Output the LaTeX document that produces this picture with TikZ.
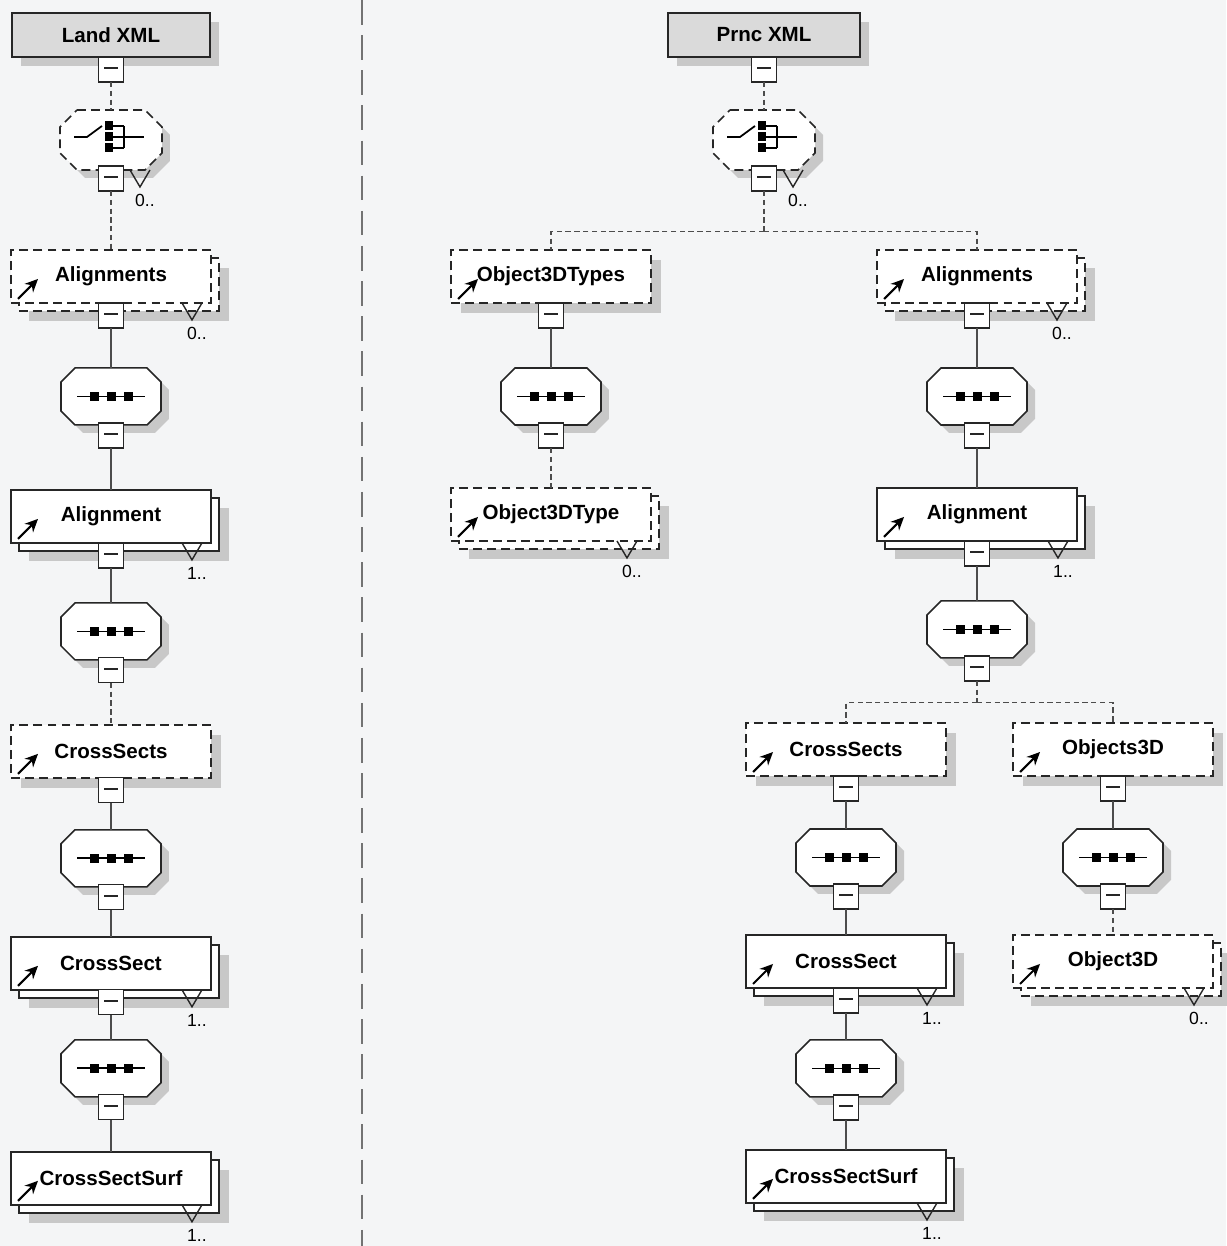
\documentclass[tikz,border=0pt]{standalone}
\usepackage{fontspec}
\setmainfont{Liberation Sans}
\usetikzlibrary{positioning,shadows,arrows.meta}

\definecolor{paper}{RGB}{244,245,246}
\definecolor{shadowgray}{RGB}{200,200,200}
\definecolor{headfill}{RGB}{218,218,218}

\tikzset{
	conn/.style={draw=black!70, line width=0.6pt},
	optconn/.style={conn, dash pattern=on 3pt off 2pt},
	opt/.style={dash pattern=on 5pt off 3pt},
	divider/.style={draw=black!55, line width=1.2pt, dash pattern=on 14pt off 6pt},
	dropshade/.style={general shadow={shadow xshift=#1, shadow yshift=-#1, fill=shadowgray}},
	head/.style={rectangle, draw=black!85, line width=0.9pt, fill=headfill,
		minimum height=0.88cm, inner sep=0pt, outer sep=0pt, dropshade=0.18cm,
		font=\bfseries\fontsize{11.7}{14}\selectfont},
	elem/.style={rectangle, draw=black!85, line width=0.9pt, fill=white,
		minimum width=4cm, minimum height=1.06cm, inner sep=0pt, outer sep=0pt,
		font=\bfseries\fontsize{11.7}{14}\selectfont,
		path picture={\draw[black, solid, line width=1.2pt, -{Stealth[length=0.26cm,width=0.24cm]}]
			([shift={(0.14cm,0.08cm)}]path picture bounding box.south west) -- +(0.4cm,0.4cm);}},
	one/.style={elem, dropshade=0.2cm},
	many/.style={elem, dropshade=0.36cm,
		general shadow={shadow xshift=0.16cm, shadow yshift=-0.16cm, draw=black!85, fill=white}},
	minus/.style={rectangle, draw=black!85, line width=0.7pt, fill=white,
		minimum size=0.5cm, inner sep=0pt, outer sep=0pt,
		path picture={\draw[line width=1pt]
			([xshift=-0.14cm,yshift=0.03cm]path picture bounding box.center) --
			([xshift=0.14cm,yshift=0.03cm]path picture bounding box.center);}},
	seqbase/.style={rectangle, minimum width=2cm, minimum height=1.14cm, inner sep=0pt, outer sep=0pt},
	choicebase/.style={rectangle, minimum width=2.04cm, minimum height=1.2cm, inner sep=0pt, outer sep=0pt},
	octo/.style={draw=black!85, line width=0.9pt, fill=white, dropshade=0.16cm},
	icon/.style={line width=1pt},
	multv/.style={draw=black!85, line width=0.8pt},
	multlabel/.style={font=\fontsize{10}{12}\selectfont, inner sep=0pt, anchor=base}
}

% octagon outline round a node
\newcommand{\octo}[3]{%
	\path[#3] ([xshift=#2]#1.north west) -- ([xshift=-#2]#1.north east)
		-- ([yshift=-#2]#1.north east) -- ([yshift=#2]#1.south east)
		-- ([xshift=-#2]#1.south east) -- ([xshift=#2]#1.south west)
		-- ([yshift=#2]#1.south west) -- ([yshift=-#2]#1.north west) -- cycle;}
% sequence compositor
\newcommand{\seqicon}[1]{%
	\octo{#1}{0.28cm}{octo}
	\begin{scope}[shift={(#1.center)}]
		\draw[icon] (-34,0) -- (34,0);
		\foreach \k in {-17,0,17} \fill (\k-4.5,-4.5) rectangle (\k+4.5,4.5);
	\end{scope}}
% choice compositor
\newcommand{\choiceicon}[1]{%
	\octo{#1}{0.34cm}{octo, opt}
	\begin{scope}[shift={(#1.center)}]
		\draw[icon] (-37,-3) -- (-24,-3) -- (-9,-14);
		\foreach \k in {-14,-3,8} {\fill (-6,\k-4.5) rectangle (2,\k+4.5);
			\draw[icon] (2,\k) -- (13,\k);}
		\draw[icon] (13,-14) -- (13,8) (13,-3) -- (33,-3);
	\end{scope}}
% V mark and occurrence count under a node
\newcommand{\mult}[3]{%
	\draw[multv] ([xshift=#2cm-0.2cm]#1.south) -- ([xshift=#2cm,yshift=-0.34cm]#1.south)
		-- ([xshift=#2cm+0.2cm]#1.south);
	\node[multlabel] (#1-occ) at ([xshift=#2cm+0.1cm,yshift=-0.74cm]#1.south) {#3};}

\begin{document}
\begin{tikzpicture}[x=0.02cm, y=-0.02cm]
	\fill[paper] (0,0) rectangle (1226,1246);
	\useasboundingbox (0,0) rectangle (1226,1246);
	\draw[divider] (362,0) -- (362,1246);

	% Land XML tree
	\node[head, minimum width=3.96cm] (land) at (111,35) {Land XML};
	\node[minus, below=0pt of land] (landm) {};
	\node[choicebase, below=0.56cm of landm] (lchoice) {};
	\choiceicon{lchoice}
	\node[minus, below=-0.08cm of lchoice] (lchoicem) {};
	\node[many, opt, below=1.18cm of lchoicem] (lalns) {Alignments};
	\node[minus, below=0pt of lalns] (lalnsm) {};
	\node[seqbase, below=0.8cm of lalnsm] (lseq1) {};
	\seqicon{lseq1}
	\node[minus, below=-0.04cm of lseq1] (lseq1m) {};
	\node[many, below=0.84cm of lseq1m] (laln) {Alignment};
	\node[minus, below=0pt of laln] (lalnm) {};
	\node[seqbase, below=0.7cm of lalnm] (lseq2) {};
	\seqicon{lseq2}
	\node[minus, below=-0.04cm of lseq2] (lseq2m) {};
	\node[one, opt, below=0.84cm of lseq2m] (lxss) {CrossSects};
	\node[minus, below=0pt of lxss] (lxssm) {};
	\node[seqbase, below=0.54cm of lxssm] (lseq3) {};
	\seqicon{lseq3}
	\node[minus, below=-0.04cm of lseq3] (lseq3m) {};
	\node[many, below=0.54cm of lseq3m] (lxs) {CrossSect};
	\node[minus, below=0pt of lxs] (lxsm) {};
	\node[seqbase, below=0.5cm of lxsm] (lseq4) {};
	\seqicon{lseq4}
	\node[minus, below=-0.04cm of lseq4] (lseq4m) {};
	\node[many, below=0.64cm of lseq4m] (lsurf) {CrossSectSurf};

	\draw[optconn] (landm) -- (lchoice);
	\draw[optconn] (lchoicem) -- (lalns);
	\draw[conn] (lalnsm) -- (lseq1);
	\draw[conn] (lseq1m) -- (laln);
	\draw[conn] (lalnm) -- (lseq2);
	\draw[optconn] (lseq2m) -- (lxss);
	\draw[conn] (lxssm) -- (lseq3);
	\draw[conn] (lseq3m) -- (lxs);
	\draw[conn] (lxsm) -- (lseq4);
	\draw[conn] (lseq4m) -- (lsurf);

	\mult{lchoice}{0.58}{0..}
	\mult{lalns}{1.62}{0..}
	\mult{laln}{1.62}{1..}
	\mult{lxs}{1.62}{1..}
	\mult{lsurf}{1.62}{1..}

	% Prnc XML tree
	\node[head, minimum width=3.84cm] (prnc) at (764,35) {Prnc XML};
	\node[minus, below=0pt of prnc] (prncm) {};
	\node[choicebase, below=0.56cm of prncm] (pchoice) {};
	\choiceicon{pchoice}
	\node[minus, below=-0.08cm of pchoice] (pchoicem) {};
	\coordinate[below=0.82cm of pchoicem] (pfork);

	\node[one, opt] (o3types) at (551,276.5) {Object3DTypes};
	\node[minus, below=0pt of o3types] (o3typesm) {};
	\node[seqbase, below=0.8cm of o3typesm] (o3seq) {};
	\seqicon{o3seq}
	\node[minus, below=-0.04cm of o3seq] (o3seqm) {};
	\node[many, opt, below=0.8cm of o3seqm] (o3type) {Object3DType};

	\node[many, opt] (ralns) at (977,276.5) {Alignments};
	\node[minus, below=0pt of ralns] (ralnsm) {};
	\node[seqbase, below=0.8cm of ralnsm] (rseq1) {};
	\seqicon{rseq1}
	\node[minus, below=-0.04cm of rseq1] (rseq1m) {};
	\node[many, below=0.8cm of rseq1m] (raln) {Alignment};
	\node[minus, below=0pt of raln] (ralnm) {};
	\node[seqbase, below=0.7cm of ralnm] (rseq2) {};
	\seqicon{rseq2}
	\node[minus, below=-0.04cm of rseq2] (rseq2m) {};
	\coordinate[below=0.44cm of rseq2m] (rfork);

	\node[one, opt] (rxss) at (846,749.5) {CrossSects};
	\node[minus, below=0pt of rxss] (rxssm) {};
	\node[seqbase, below=0.56cm of rxssm] (rseq3) {};
	\seqicon{rseq3}
	\node[minus, below=-0.04cm of rseq3] (rseq3m) {};
	\node[many, below=0.52cm of rseq3m] (rxs) {CrossSect};
	\node[minus, below=0pt of rxs] (rxsm) {};
	\node[seqbase, below=0.54cm of rxsm] (rseq4) {};
	\seqicon{rseq4}
	\node[minus, below=-0.04cm of rseq4] (rseq4m) {};
	\node[many, below=0.6cm of rseq4m] (rsurf) {CrossSectSurf};

	\node[one, opt] (ro3ds) at (1113,749.5) {Objects3D};
	\node[minus, below=0pt of ro3ds] (ro3dsm) {};
	\node[seqbase, below=0.56cm of ro3dsm] (ro3dseq) {};
	\seqicon{ro3dseq}
	\node[minus, below=-0.04cm of ro3dseq] (ro3dseqm) {};
	\node[many, opt, below=0.52cm of ro3dseqm] (ro3d) {Object3D};

	\draw[optconn] (prncm) -- (pchoice);
	\draw[optconn] (pchoicem) -- (pfork);
	\draw[optconn] (pfork) -| (o3types.north);
	\draw[optconn] (pfork) -| (ralns.north);
	\draw[conn] (o3typesm) -- (o3seq);
	\draw[optconn] (o3seqm) -- (o3type);
	\draw[conn] (ralnsm) -- (rseq1);
	\draw[conn] (rseq1m) -- (raln);
	\draw[conn] (ralnm) -- (rseq2);
	\draw[optconn] (rseq2m) -- (rfork);
	\draw[optconn] (rfork) -| (rxss.north);
	\draw[optconn] (rfork) -| (ro3ds.north);
	\draw[conn] (rxssm) -- (rseq3);
	\draw[conn] (rseq3m) -- (rxs);
	\draw[conn] (rxsm) -- (rseq4);
	\draw[conn] (rseq4m) -- (rsurf);
	\draw[conn] (ro3dsm) -- (ro3dseq);
	\draw[optconn] (ro3dseqm) -- (ro3d);

	\mult{pchoice}{0.58}{0..}
	\mult{o3type}{1.52}{0..}
	\mult{ralns}{1.6}{0..}
	\mult{raln}{1.62}{1..}
	\mult{rxs}{1.62}{1..}
	\mult{rsurf}{1.62}{1..}
	\mult{ro3d}{1.62}{0..}
\end{tikzpicture}
\end{document}
